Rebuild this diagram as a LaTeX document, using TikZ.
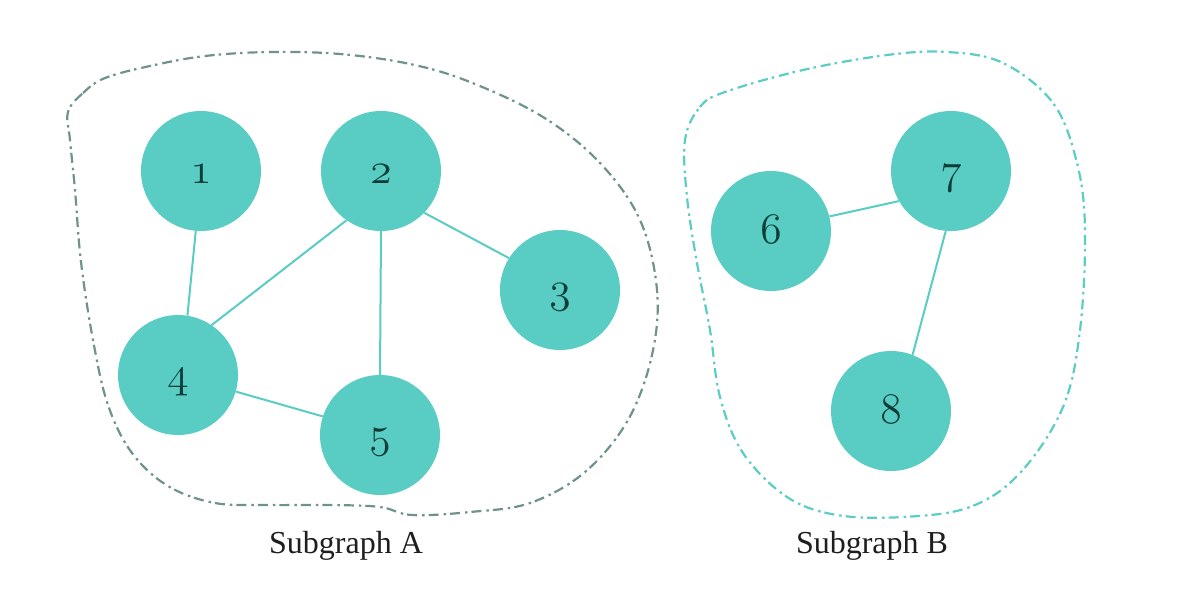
\documentclass[tikz,border=0pt]{standalone}
\usepackage{graphicx}
\usepackage{fontspec}
\newfontfamily\labfont{Liberation Serif}
\definecolor{nodefill}{RGB}{89,205,195}
\definecolor{numcol}{RGB}{14,60,55}
\definecolor{outA}{RGB}{112,146,141}
\definecolor{outB}{RGB}{92,205,196}
\definecolor{labcol}{RGB}{30,30,30}
\newcommand\osnum[1]{\scalebox{1.75}{$\mathnormal{#1}$}}
\tikzset{
  vert/.style={circle, fill=nodefill, draw=none, minimum size=120pt, inner sep=0pt,
    text=numcol, font=\fontsize{24.88}{30}\selectfont, text height=30pt, text depth=5pt},
  link/.style={draw=nodefill, line width=2pt},
  hull/.style={line width=2.2pt, dash pattern=on 10pt off 4pt on 2.5pt off 5pt},
  labtext/.style={anchor=base, text=labcol, font=\labfont\fontsize{32}{36}\selectfont, inner sep=0pt}
}
\begin{document}
\begin{tikzpicture}[x=1pt, y=-1pt]
\useasboundingbox (0,0) rectangle (1178,598);
% outlines
\draw[hull, draw=outA] plot[smooth cycle, tension=0.6] coordinates {
  (68,112) (83,93) (105,78) (150,66) (205,56) (270,52) (340,54) (410,64)
  (470,82) (543,117) (600,163) (640,220) (657,290) (652,355) (628,420)
  (585,472) (530,503) (470,512) (412,515) (380,507) (330,505) (270,505)
  (215,503) (168,486) (132,453) (108,405) (93,340) (81,262) (75,190) (70,140)};
\draw[hull, draw=outB] plot[smooth cycle, tension=0.6] coordinates {
  (685,140) (700,107) (725,92) (803,70) (887,55) (947,52) (1003,63)
  (1053,103) (1077,163) (1085,230) (1080,330) (1063,407) (1020,473)
  (970,507) (903,517) (837,515) (787,497) (743,453) (720,397) (710,330)
  (697,263) (687,197)};
% nodes
\node[vert] (n1) at (201,171) {\osnum{1}};
\node[vert] (n2) at (381,171) {\osnum{2}};
\node[vert] (n3) at (560,290) {\osnum{3}};
\node[vert] (n4) at (178,375) {\osnum{4}};
\node[vert] (n5) at (380,435) {\osnum{5}};
\node[vert] (n6) at (771,231) {\osnum{6}};
\node[vert] (n7) at (951,171) {\osnum{7}};
\node[vert] (n8) at (891,411) {\osnum{8}};
% edges
\draw[link] (n1.265) -- (n4.81);
\draw[link] (n2.235) -- (n4.56);
\draw[link] (n2.-90) -- (n5.90);
\draw[link] (n2.-44) -- (n3.148);
\draw[link] (n4.-16) -- (n5.162);
\draw[link] (n6.14) -- (n7.210);
\draw[link] (n7.265) -- (n8.69);
% labels
\node[labtext] (la) at (346,553) {Subgraph A};
\node[labtext] (lb) at (872,553) {Subgraph B};
\end{tikzpicture}
\end{document}
